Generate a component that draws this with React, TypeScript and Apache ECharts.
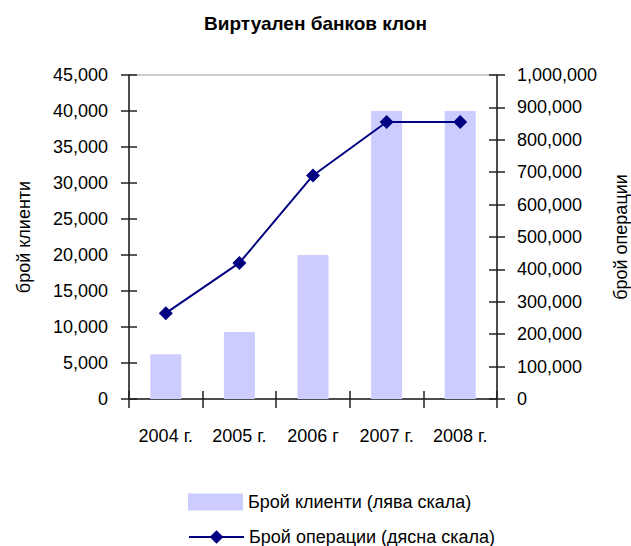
import React, { useEffect, useRef } from "react";
import * as echarts from "echarts";

const categories = ["2004 г.", "2005 г.", "2006 г", "2007 г.", "2008 г."];
const clients = [6200, 9300, 20000, 40000, 40000];
const operations = [265000, 420000, 690000, 855000, 855000];
const clientsName = "Брой клиенти (лява скала)";
const operationsName = "Брой операции (дясна скала)";
const title = "Виртуален банков клон";
const leftAxisName = "брой клиенти";
const rightAxisName = "брой операции";

const FONT = "'Liberation Sans', Arial, sans-serif";
const fmt = (v: number) => v.toLocaleString("en-US");

export default function App() {
  const ref = useRef<HTMLDivElement>(null);
  useEffect(() => {
    if (!ref.current) return;
    const chart = echarts.init(ref.current, undefined, { renderer: "svg" });
    const axisLine = { show: true, lineStyle: { color: "#222", width: 1.5 } };
    const tickStyle = { color: "#222", width: 1.5 };
    const labelStyle = { color: "#000", fontSize: 18, fontFamily: FONT };
    const legendText = { fontSize: 18, color: "#000", fontFamily: FONT };
    chart.setOption({
      animation: false,
      backgroundColor: "#fff",
      textStyle: { fontFamily: FONT },
      title: {
        text: title,
        left: "center",
        top: 9,
        textStyle: { fontSize: 19, fontWeight: "bold", color: "#000", fontFamily: FONT },
      },
      grid: {
        left: 129,
        right: 134,
        top: 75,
        bottom: 147,
        show: true,
        borderColor: "#999",
        borderWidth: 1,
        backgroundColor: "transparent",
        outerBoundsMode: "none",
        containLabel: false,
      },
      legend: [
        {
          left: 183,
          top: 488,
          itemWidth: 55,
          itemHeight: 17,
          textStyle: legendText,
          data: [{ name: clientsName, icon: "rect" }],
        },
        {
          left: 183,
          top: 523,
          itemWidth: 55,
          itemHeight: 17,
          textStyle: legendText,
          data: [{ name: operationsName }],
        },
      ],
      xAxis: [
        {
          type: "category",
          data: categories,
          position: "bottom",
          axisLine,
          axisTick: { show: true, inside: false, length: 9, lineStyle: tickStyle },
          axisLabel: { ...labelStyle, margin: 28, interval: 0 },
          splitLine: { show: false },
        },
        {
          type: "category",
          data: categories,
          position: "bottom",
          axisLine: { show: false },
          axisTick: { show: true, inside: true, length: 8, lineStyle: tickStyle },
          axisLabel: { show: false },
          splitLine: { show: false },
        },
      ],
      yAxis: [
        {
          type: "value",
          position: "left",
          min: 0,
          max: 45000,
          interval: 5000,
          name: leftAxisName,
          nameLocation: "middle",
          nameGap: 96,
          nameRotate: 90,
          nameTextStyle: { ...labelStyle },
          axisLine,
          axisTick: { show: true, inside: false, length: 8, lineStyle: tickStyle },
          axisLabel: { ...labelStyle, margin: 21, formatter: fmt },
          splitLine: { show: false },
        },
        {
          type: "value",
          position: "right",
          min: 0,
          max: 1000000,
          interval: 100000,
          name: rightAxisName,
          nameLocation: "middle",
          nameGap: 115,
          nameRotate: 90,
          nameTextStyle: { ...labelStyle },
          axisLine,
          axisTick: { show: true, inside: false, length: 8, lineStyle: tickStyle },
          axisLabel: { ...labelStyle, margin: 20, formatter: fmt },
          splitLine: { show: false },
        },
        {
          type: "value",
          position: "left",
          min: 0,
          max: 45000,
          interval: 5000,
          axisLine: { show: false },
          axisTick: { show: true, inside: true, length: 8, lineStyle: tickStyle },
          axisLabel: { show: false },
          splitLine: { show: false },
        },
        {
          type: "value",
          position: "right",
          min: 0,
          max: 1000000,
          interval: 100000,
          axisLine: { show: false },
          axisTick: { show: true, inside: true, length: 8, lineStyle: tickStyle },
          axisLabel: { show: false },
          splitLine: { show: false },
        },
      ],
      series: [
        {
          name: clientsName,
          type: "bar",
          xAxisIndex: 0,
          yAxisIndex: 0,
          data: clients,
          barWidth: 31,
          itemStyle: { color: "#CCCCFF" },
        },
        {
          name: operationsName,
          type: "line",
          xAxisIndex: 0,
          yAxisIndex: 1,
          data: operations,
          symbol: "diamond",
          symbolSize: 14,
          itemStyle: { color: "#000080" },
          lineStyle: { color: "#000080", width: 2 },
        },
      ],
    });
    return () => chart.dispose();
  }, []);
  return (
    <div
      ref={ref}
      style={{ position: "fixed", left: 0, top: 0, width: 631, height: 546 }}
    />
  );
}
